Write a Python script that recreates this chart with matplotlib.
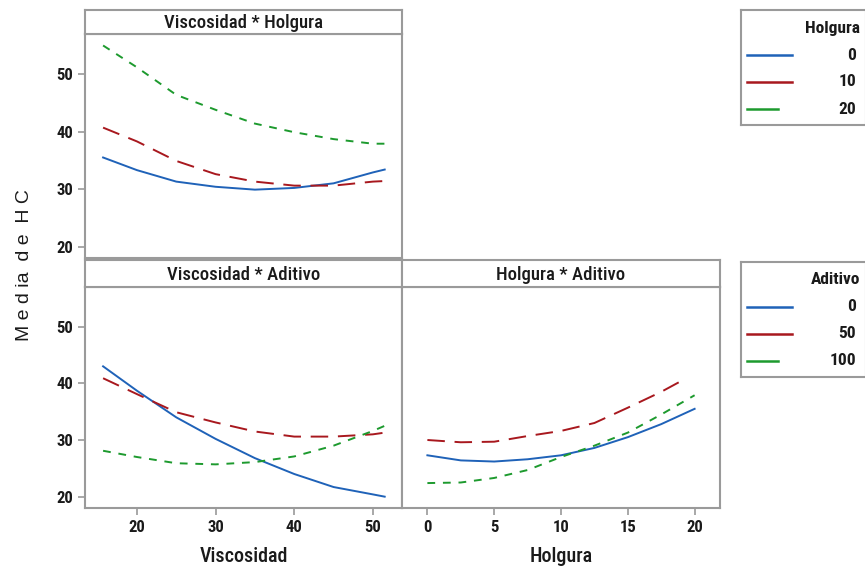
import numpy as np
import matplotlib
matplotlib.use("Agg")
import matplotlib.pyplot as plt
from matplotlib.lines import Line2D
from matplotlib import font_manager

# pick a condensed face if one is installed
names = {f.name for f in font_manager.fontManager.ttflist}
narrow = next((n for n in ['Liberation Sans Narrow', 'DejaVu Sans Condensed', 'Roboto Condensed',
                           'Open Sans Condensed'] if n in names), 'DejaVu Sans')
plt.rcParams['font.family'] = [narrow, 'DejaVu Sans']

# Viscosidad * Holgura
visc = [15.7, 20, 25, 30, 35, 40, 45, 50, 51.5]
vh_h0 = [35.5, 33.3, 31.3, 30.4, 29.9, 30.2, 31.0, 32.9, 33.4]
vh_h10 = [40.7, 38.3, 34.9, 32.6, 31.3, 30.6, 30.6, 31.3, 31.4]
vh_h20 = [55.0, 51.2, 46.4, 43.8, 41.4, 39.9, 38.7, 37.9, 37.9]

# Viscosidad * Aditivo
va_a0 = [43.0, 38.7, 34.0, 30.2, 26.8, 24.0, 21.7, 20.4, 20.0]
va_a50 = [40.9, 38.1, 34.9, 33.1, 31.5, 30.6, 30.6, 31.0, 31.3]
va_a100 = [28.1, 27.0, 25.9, 25.7, 26.1, 27.1, 29.0, 31.6, 32.5]

# Holgura * Aditivo
holg = [0, 2.5, 5, 7.5, 10, 12.5, 15, 17.5, 20]
ha_a0 = [27.3, 26.4, 26.2, 26.6, 27.3, 28.6, 30.5, 32.8, 35.5]
ha_a50 = [30.0, 29.6, 29.7, 30.7, 31.6, 33.0, 35.7, 38.5, 40.8]
ha_a100 = [22.4, 22.5, 23.3, 24.7, 27.0, 29.0, 31.3, 34.5, 37.9]
holg_a50 = [0, 2.5, 5, 7.5, 10, 12.5, 15, 17.5, 19.3]

holgura_levels = ['0', '10', '20']
aditivo_levels = ['0', '50', '100']

BLUE = '#1f62b8'
RED = '#a8181e'
GREEN = '#1d9a2e'
EDGE = '#9a9a9a'
TXT = '#1a1a1a'
styles = [
    dict(color=BLUE, ls='-'),
    dict(color=RED, ls=(0, (9, 5))),
    dict(color=GREEN, ls=(0, (4, 4))),
]

W, H = 865, 576
fig = plt.figure(figsize=(W / 100, H / 100), dpi=100)


def box(x0, y0, x1, y1):
    return [x0 / W, 1 - y1 / H, (x1 - x0) / W, (y1 - y0) / H]


def frame(ax):
    for s in ax.spines.values():
        s.set_color(EDGE)
        s.set_linewidth(1.5)


def strip(rect, title):
    s = fig.add_axes(rect)
    s.set_xticks([])
    s.set_yticks([])
    frame(s)
    s.text(0.5, 0.45, title, ha='center', va='center', fontsize=13.5,
           color=TXT, weight='medium', transform=s.transAxes)
    return s


YLIM = (18.0, 57.0)
VX = (13.4, 53.7)
HX = (-1.9, 21.9)

ax_vh = fig.add_axes(box(85, 34, 402, 258))
ax_va = fig.add_axes(box(85, 287, 402, 508))
ax_ha = fig.add_axes(box(402, 287, 720, 508))
strip(box(85, 10, 402, 34), 'Viscosidad * Holgura')
strip(box(85, 260, 402, 287), 'Viscosidad * Aditivo')
strip(box(402, 260, 720, 287), 'Holgura * Aditivo')

for ys, st in zip([vh_h0, vh_h10, vh_h20], styles):
    ax_vh.plot(visc, ys, lw=1.4, **st)
for ys, st in zip([va_a0, va_a50, va_a100], styles):
    ax_va.plot(visc, ys, lw=1.4, **st)
for xs, ys, st in zip([holg, holg_a50, holg], [ha_a0, ha_a50, ha_a100], styles):
    ax_ha.plot(xs, ys, lw=1.4, **st)

for ax in (ax_vh, ax_va, ax_ha):
    frame(ax)
    ax.set_ylim(*YLIM)
    ax.tick_params(colors=EDGE, labelcolor=TXT, labelsize=12, length=5, width=1.2)

for ax in (ax_vh, ax_va):
    ax.set_xlim(*VX)
    ax.set_yticks([20, 30, 40, 50])

ax_vh.set_xticks([])
ax_va.set_xticks([20, 30, 40, 50])
ax_ha.set_xlim(*HX)
ax_ha.set_xticks([0, 5, 10, 15, 20])
ax_ha.set_yticks([])
for ax in (ax_vh, ax_va, ax_ha):
    for lab in ax.get_xticklabels() + ax.get_yticklabels():
        lab.set_fontweight('semibold')

ax_va.set_xlabel('Viscosidad', fontsize=14.5, color=TXT, labelpad=9, weight='medium')
ax_ha.set_xlabel('Holgura', fontsize=14.5, color=TXT, labelpad=9, weight='medium')

fig.text(25 / W, 1 - 265 / H, 'M e d ia  d e  H C', rotation=90, ha='center',
         va='center', fontsize=14, color=TXT, family=['Liberation Sans', 'DejaVu Sans'])


# legends drawn as boxes with line samples
def legend(y0, title, labels):
    lg = fig.add_axes(box(741, y0, 866, y0 + 115))
    lg.set_xlim(741, 866)
    lg.set_ylim(y0 + 115, y0)
    lg.set_xticks([])
    lg.set_yticks([])
    frame(lg)
    lg.text(860, y0 + 18, title, ha='right', va='center', fontsize=12.5,
            weight='semibold', color=TXT)
    for i, (lab, st) in enumerate(zip(labels, styles)):
        yy = y0 + 45 + i * 27
        x1 = 792 if i < 2 else 778
        lg.add_line(Line2D([747, x1], [yy, yy], color=st['color'], lw=1.8))
        lg.text(856, yy, lab, ha='right', va='center', fontsize=12.5,
                weight='semibold', color=TXT)


legend(10, 'Holgura', holgura_levels)
legend(262, 'Aditivo', aditivo_levels)

fig.savefig('out.png', dpi=100)
